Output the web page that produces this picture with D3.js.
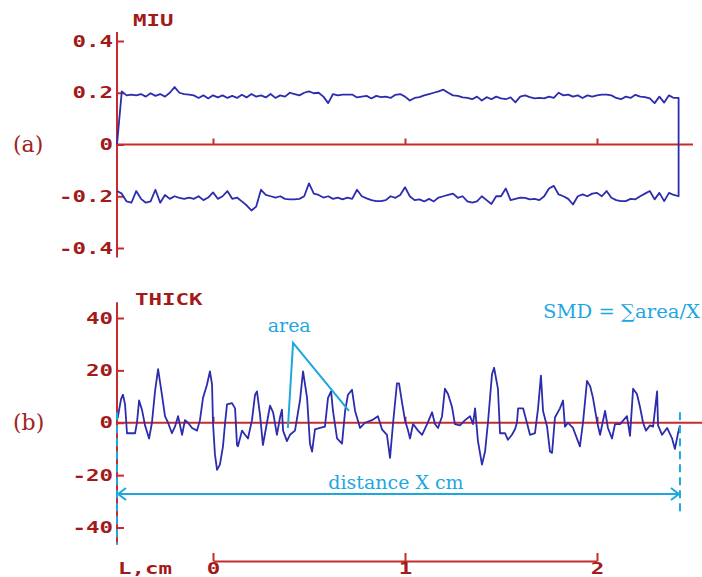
<!DOCTYPE html>
<html>
<head>
<meta charset="utf-8">
<script src="https://cdn.jsdelivr.net/npm/d3@7"></script>
<style>
  body { margin: 0; background: #fff; }
  svg { display: block; }
</style>
</head>
<body>
<svg id="chart" width="702" height="577"></svg>
<script>
// MIU trace: forward pass then return pass, one sample every 0.025 from -0.5
var miuStart = -0.5;
var miuStep = 0.025;
var miuForward = [
  0, 0.205, 0.19, 0.193, 0.19, 0.195, 0.185, 0.198, 0.188, 0.195,
  0.185, 0.2, 0.222, 0.2, 0.195, 0.193, 0.19, 0.18, 0.19, 0.178,
  0.19, 0.182, 0.19, 0.18, 0.188, 0.18, 0.192, 0.182, 0.195, 0.185,
  0.19, 0.182, 0.195, 0.18, 0.19, 0.185, 0.2, 0.195, 0.19, 0.2,
  0.205, 0.198, 0.2, 0.185, 0.16, 0.195, 0.19, 0.193, 0.193, 0.193,
  0.182, 0.185, 0.188, 0.178, 0.188, 0.183, 0.185, 0.18, 0.192, 0.195,
  0.185, 0.17, 0.18, 0.183, 0.19, 0.195, 0.2, 0.205, 0.212, 0.2,
  0.19, 0.188, 0.182, 0.18, 0.175, 0.185, 0.17, 0.183, 0.175, 0.185,
  0.178, 0.175, 0.182, 0.163, 0.185, 0.19, 0.183, 0.178, 0.18, 0.178,
  0.185, 0.18, 0.2, 0.19, 0.193, 0.185, 0.19, 0.18, 0.19, 0.185,
  0.19, 0.193, 0.193, 0.19, 0.18, 0.175, 0.185, 0.18, 0.192, 0.185,
  0.183, 0.178, 0.16, 0.185, 0.162, 0.19, 0.18, 0.18
];
var miuReturn = [
  -0.18, -0.19, -0.22, -0.225, -0.18, -0.21, -0.225, -0.22, -0.175, -0.225,
  -0.195, -0.21, -0.2, -0.206, -0.21, -0.205, -0.21, -0.2, -0.215, -0.205,
  -0.185, -0.21, -0.2, -0.18, -0.21, -0.205, -0.22, -0.235, -0.255, -0.24,
  -0.175, -0.195, -0.2, -0.205, -0.2, -0.21, -0.212, -0.212, -0.21, -0.2,
  -0.15, -0.19, -0.195, -0.205, -0.2, -0.21, -0.205, -0.212, -0.205, -0.21,
  -0.175, -0.2, -0.208, -0.215, -0.219, -0.219, -0.215, -0.2, -0.206, -0.195,
  -0.165, -0.2, -0.215, -0.212, -0.22, -0.21, -0.22, -0.205, -0.2, -0.195,
  -0.19, -0.206, -0.2, -0.22, -0.225, -0.22, -0.2, -0.215, -0.23, -0.2,
  -0.2, -0.17, -0.215, -0.21, -0.205, -0.206, -0.212, -0.21, -0.215, -0.2,
  -0.17, -0.16, -0.193, -0.2, -0.21, -0.232, -0.2, -0.193, -0.2, -0.19,
  -0.187, -0.2, -0.18, -0.206, -0.215, -0.219, -0.219, -0.21, -0.212, -0.2,
  -0.19, -0.18, -0.212, -0.187, -0.219, -0.187, -0.195, -0.2
];

// THICK trace: positions (same units as the L scale) and values
var thickPos = [
  -0.500, -0.495, -0.479, -0.469, -0.458, -0.448, -0.427, -0.406, -0.396, -0.385,
  -0.370, -0.354, -0.333, -0.318, -0.302, -0.286, -0.266, -0.250, -0.234, -0.214,
  -0.198, -0.182, -0.161, -0.146, -0.130, -0.109, -0.083, -0.068, -0.052, -0.031,
  -0.016, -0.005, 0.000, 0.010, 0.021, 0.036, 0.052, 0.063, 0.073, 0.099,
  0.115, 0.125, 0.130, 0.151, 0.167, 0.182, 0.203, 0.219, 0.229, 0.245,
  0.260, 0.281, 0.297, 0.313, 0.333, 0.349, 0.359, 0.365, 0.385, 0.401,
  0.427, 0.453, 0.469, 0.490, 0.505, 0.516, 0.531, 0.557, 0.583, 0.599,
  0.615, 0.625, 0.646, 0.672, 0.688, 0.703, 0.724, 0.740, 0.766, 0.792,
  0.828, 0.859, 0.880, 0.906, 0.922, 0.938, 0.958, 0.969, 0.984, 1.000,
  1.016, 1.026, 1.042, 1.068, 1.089, 1.115, 1.141, 1.156, 1.172, 1.193,
  1.208, 1.224, 1.245, 1.260, 1.286, 1.313, 1.339, 1.354, 1.365, 1.380,
  1.401, 1.417, 1.432, 1.453, 1.464, 1.484, 1.495, 1.521, 1.536, 1.557,
  1.573, 1.583, 1.589, 1.615, 1.635, 1.651, 1.677, 1.693, 1.708, 1.719,
  1.740, 1.755, 1.766, 1.781, 1.807, 1.823, 1.833, 1.849, 1.875, 1.911,
  1.927, 1.948, 1.964, 1.979, 2.000, 2.016, 2.042, 2.057, 2.078, 2.094,
  2.120, 2.156, 2.172, 2.188, 2.208, 2.224, 2.240, 2.255, 2.276, 2.292,
  2.313, 2.318, 2.339, 2.365, 2.391, 2.406, 2.422, 2.432
];
var thickVal = [
  1, 2.4, 9, 10.7, 7, -4, -4, -4, 0, 8.5,
  5, -1, -6, 0, 12, 20.5, 10.7, 2.5, 0, -4,
  -1.5, 2.5, -4.6, 1, 0, -2, -3, 1, 9.5, 14.6,
  19.6, 14.6, 0, -12, -18, -16, -9, 0, 7, 7.5,
  5.5, -8.5, -9, -3, -4.6, -6, 1, 10.7, 12, 3,
  -8.5, 0, 6.5, 4, -4.6, 2, 5, -3, -7, -4.6,
  -3, 8.5, 19.6, 9.5, -8, -11, -2.5, -2, -1.5, 9.5,
  12, 4.5, -6, -8, 4.5, 10.7, 12.6, 4.5, -2, 0,
  1, 2.5, -2.5, -4.6, -13.4, 0, 15, 15, 8, 1,
  -3, -6, -0.5, -3, -4.6, -0.5, 4, -0.5, -2, 2.5,
  13, 11, 6, -0.5, -1, 1, 2.5, -0.5, 5.5, -7,
  -16, -11, 0, 18.5, 21, 13, -4, -4, -6.5, -4.6,
  -2.5, 0, 5.5, 5.5, 0, -4.6, -4, 5.5, 18, 4.5,
  -1.5, -11, -11.5, 2, 5.5, 8.5, -1.5, 0, -2, -9,
  0, 16, 14, 9.5, 0.5, -4.6, 4.5, -2, -6, -0.5,
  -0.5, 2.5, -5, 13, 11, 6, 0, -3, -1, -1.5,
  12, -1, -4.6, -2, -6, -10, -4, -1
];

// tick values and labels
var miuTicks = [0.4, 0.2, 0, -0.2, -0.4];
var miuTickLabels = ["0.4", "0.2", "0", "-0.2", "-0.4"];
var thickTicks = [40, 20, 0, -20, -40];
var thickTickLabels = ["40", "20", "0", "-20", "-40"];
var lTicks = [0, 1, 2];
var lTickLabels = ["0", "1", "2"];

var red = "#c82b2b", darkRed = "#a31a1a", traceBlue = "#2c2cae", cyan = "#1ea7df";

let svg = d3.select("#chart");
let width = +svg.attr("width");

let x = d3.scaleLinear().domain([0, 2]).range([213, 597]);
let yMiu = d3.scaleLinear().domain([-0.4, 0.4]).range([248, 41]);
let yThick = d3.scaleLinear().domain([-40, 40]).range([527.5, 318]);
let axisX = x(miuStart);

// blocky bold label font of the instrument screen
var monoStyle = function(sel) {
  sel.style("font-family", "'DejaVu Sans Mono', monospace")
  .style("font-weight", "bold")
  .style("font-size", "16px")
  .attr("fill", darkRed)
  .attr("lengthAdjust", "spacingAndGlyphs")
  .attr("textLength", function() { return this.textContent.length * 13.5; });
};

var drawPanel = function(yScale, ticks, labels, top, bottom, zeroEnd) {
  // vertical axis
  svg.append("line")
  .attr("x1", axisX).attr("x2", axisX)
  .attr("y1", yScale(top)).attr("y2", yScale(bottom))
  .attr("stroke", red).attr("stroke-width", 2);

  let yGroup = svg.append("g")
  .attr("transform", "translate(" + axisX + ",0)")
  .call(d3.axisLeft(yScale).tickValues(ticks).tickFormat((d, i) => labels[i]).tickSize(-7).tickPadding(4));
  yGroup.select(".domain").remove();
  yGroup.selectAll("line").attr("stroke", red).attr("stroke-width", 2);
  yGroup.selectAll("text").call(monoStyle);

  // zero line with small ticks
  svg.append("line")
  .attr("x1", axisX).attr("x2", zeroEnd)
  .attr("y1", yScale(0)).attr("y2", yScale(0))
  .attr("stroke", red).attr("stroke-width", 2);

  let zGroup = svg.append("g")
  .attr("transform", "translate(0," + yScale(0) + ")")
  .call(d3.axisTop(x).tickValues(lTicks).tickSize(6).tickFormat(""));
  zGroup.select(".domain").remove();
  zGroup.selectAll("line").attr("stroke", red).attr("stroke-width", 2);
};

drawPanel(yMiu, miuTicks, miuTickLabels, 0.435, -0.437, x(2.5));
drawPanel(yThick, thickTicks, thickTickLabels, 46, -46.5, width);

// titles
svg.append("text").text("MIU").attr("x", 133).attr("y", 26).call(monoStyle);
svg.append("text").text("THICK").attr("x", 135).attr("y", 305).call(monoStyle);
svg.append("text").text("L,cm").attr("x", 118).attr("y", 574).call(monoStyle);

// L scale bar
let lScale = d3.scaleLinear().domain([0, 2]).range([x(0), x(2)]);
let lGroup = svg.append("g")
.attr("transform", "translate(0,561)")
.call(d3.axisBottom(lScale).tickValues(lTicks).tickFormat((d, i) => lTickLabels[i]).tickSize(-8).tickSizeOuter(0).tickPadding(2));
lGroup.select(".domain").attr("stroke", red).attr("stroke-width", 2);
lGroup.selectAll("line").attr("stroke", red).attr("stroke-width", 2);
lGroup.selectAll("text").call(monoStyle);

// MIU trace: out along the top, back along the bottom
let miuPoints = miuForward.map((v, i) => [miuStart + i * miuStep, v]);
let backPoints = miuReturn.map((v, i) => [miuStart + i * miuStep, v]).reverse();
let miuLine = d3.line().x(d => x(d[0])).y(d => yMiu(d[1]));
svg.append("path")
.attr("d", miuLine(miuPoints.concat(backPoints)))
.attr("fill", "none")
.attr("stroke", traceBlue)
.attr("stroke-width", 1.8)
.attr("stroke-linejoin", "round");

// THICK trace
let thickLine = d3.line().x(d => x(d[0])).y(d => yThick(d[1]));
svg.append("path")
.attr("d", thickLine(thickPos.map((p, i) => [p, thickVal[i]])))
.attr("fill", "none")
.attr("stroke", traceBlue)
.attr("stroke-width", 1.8)
.attr("stroke-linejoin", "round");

// annotations
let xFirst = x(thickPos[0]);
let xLast = x(thickPos[thickPos.length - 1]);

svg.append("line")
.attr("x1", xFirst).attr("x2", xFirst)
.attr("y1", yThick(4)).attr("y2", yThick(-46.5))
.attr("stroke", cyan).attr("stroke-width", 2).attr("stroke-dasharray", "8,5");
svg.append("line")
.attr("x1", xLast).attr("x2", xLast)
.attr("y1", yThick(4)).attr("y2", yThick(-35.5))
.attr("stroke", cyan).attr("stroke-width", 2).attr("stroke-dasharray", "8,5");

let defs = svg.append("defs");
defs.append("marker")
.attr("id", "chev")
.attr("viewBox", "0 -7 10 14")
.attr("refX", 9).attr("refY", 0)
.attr("markerWidth", 10).attr("markerHeight", 14)
.attr("markerUnits", "userSpaceOnUse")
.attr("orient", "auto-start-reverse")
.append("path")
.attr("d", "M1,-6L9,0L1,6")
.attr("fill", "none").attr("stroke", cyan).attr("stroke-width", 2);

svg.append("line")
.attr("x1", xFirst + 1).attr("x2", xLast - 1)
.attr("y1", yThick(-27.2)).attr("y2", yThick(-27.2))
.attr("stroke", cyan).attr("stroke-width", 2)
.attr("marker-start", "url(#chev)").attr("marker-end", "url(#chev)");

// "area" pointers
let apex = [0.417, 30.5];
svg.append("path")
.attr("d", d3.line()([[x(0.39), yThick(-2)], [x(apex[0]), yThick(apex[1])], [x(0.708), yThick(4.5)]]))
.attr("fill", "none").attr("stroke", cyan).attr("stroke-width", 2);

var serif = "'DejaVu Serif', serif";
svg.append("text").text("area")
.attr("x", x(0.397)).attr("y", yThick(34.5))
.attr("text-anchor", "middle")
.style("font-family", serif).style("font-size", "19px").attr("fill", cyan);

svg.append("text").text("distance X cm")
.attr("x", x(0.953)).attr("y", yThick(-25.2))
.attr("text-anchor", "middle")
.style("font-family", serif).style("font-size", "19px").attr("fill", cyan);

svg.append("text").text("SMD = \u2211area/X")
.attr("x", 700).attr("y", 318)
.attr("text-anchor", "end")
.attr("textLength", 157).attr("lengthAdjust", "spacingAndGlyphs")
.style("font-family", serif).style("font-size", "19px").attr("fill", cyan);

// panel letters
svg.append("text").text("(a)")
.attr("x", 13).attr("y", yMiu(0) + 7)
.style("font-family", serif).style("font-size", "22px").attr("fill", "#9e2424");
svg.append("text").text("(b)")
.attr("x", 13).attr("y", yThick(0) + 7)
.style("font-family", serif).style("font-size", "22px").attr("fill", "#9e2424");
</script>
</body>
</html>
